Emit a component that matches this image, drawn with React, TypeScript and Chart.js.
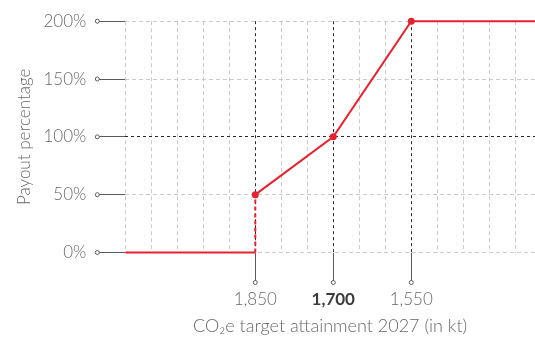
import React, { useEffect, useRef } from 'react';
import { Chart, registerables } from 'chart.js';

Chart.register(...registerables);

// ---- data ----
const targetKt = [2100, 1850, 1850, 1700, 1550, 1312];
const payoutPct = [0, 0, 50, 100, 200, 200];
const markedKt = [1850, 1700, 1550];
const markedLabels = ['1,850', '1,700', '1,550'];
const boldKt = 1700;
const xGridKt = [2100, 2050, 2000, 1950, 1900, 1850, 1800, 1750, 1700, 1650, 1600, 1550, 1500, 1450, 1400, 1350];
const yTicks = [0, 50, 100, 150, 200];
const xMin = 1312;
const xMax = 2100;

const RED = '#e62130';
const LIGHT = '#cbcbcb';
const DARK = '#2a2a2a';
const TICK = '#5a5a5a';
const TEXT = '#686868';
const FONT = 'Lato, "Open Sans", sans-serif';
const FS = 17;

const tickDots = {
  id: 'tickDots',
  afterDraw(chart: any) {
    const { ctx, chartArea } = chart;
    const x = chart.scales.x;
    const y = chart.scales.y;
    const dot = (px: number, py: number) => {
      ctx.beginPath();
      ctx.arc(px, py, 2, 0, Math.PI * 2);
      ctx.fillStyle = '#ffffff';
      ctx.fill();
      ctx.lineWidth = 1;
      ctx.strokeStyle = TICK;
      ctx.stroke();
    };
    ctx.save();
    const yLen = y.options.grid.tickLength;
    yTicks.forEach((v) => dot(chartArea.left - yLen, y.getPixelForValue(v)));
    const xLen = x.options.grid.tickLength;
    markedKt.forEach((v) => dot(x.getPixelForValue(v), chartArea.bottom + xLen));
    ctx.restore();
  },
};

export default function App() {
  const ref = useRef<HTMLCanvasElement>(null);
  useEffect(() => {
    if (!ref.current) return;
    const isMarked = (v: any) => markedKt.includes(v);
    const chart = new Chart(ref.current, {
      type: 'line',
      data: {
        datasets: [
          {
            data: targetKt.map((x, i) => ({ x, y: payoutPct[i] })),
            borderColor: RED,
            backgroundColor: RED,
            borderWidth: 2,
            tension: 0,
            clip: false as any,
            pointRadius: (c: any) => (c.raw && c.raw.y > 0 && isMarked(c.raw.x) ? 3.5 : 0),
            pointHoverRadius: 0,
            pointBackgroundColor: RED,
            pointBorderWidth: 0,
            segment: {
              borderDash: (c: any) => (c.p0.parsed.x === c.p1.parsed.x ? [4, 3] : undefined),
            },
          } as any,
        ],
      },
      options: {
        animation: false,
        responsive: true,
        maintainAspectRatio: false,
        layout: { padding: { top: 16, right: 0, left: 0, bottom: 0 } },
        plugins: { legend: { display: false }, tooltip: { enabled: false } },
        events: [],
        scales: {
          x: {
            type: 'linear',
            reverse: true,
            min: xMin,
            max: xMax,
            afterBuildTicks: (scale: any) => {
              scale.ticks = xGridKt.map((v) => ({ value: v }));
            },
            afterFit: (scale: any) => {
              scale.height = 84.5;
            },
            grid: {
              color: (c: any) => (isMarked(c.tick?.value) ? DARK : LIGHT),
              lineWidth: 1,
              tickLength: 30,
              tickWidth: 1,
              tickColor: (c: any) => (isMarked(c.tick?.value) ? TICK : 'rgba(0,0,0,0)'),
              tickBorderDash: [],
            } as any,
            border: {
              display: false,
              dash: (c: any) => (isMarked(c.tick?.value) ? [3, 3] : [4, 3]),
            } as any,
            ticks: {
              autoSkip: false,
              maxRotation: 0,
              padding: 7,
              callback: (v: any) => {
                const i = markedKt.indexOf(Number(v));
                return i >= 0 ? markedLabels[i] : '';
              },
              color: (c: any) => (c.tick?.value === boldKt ? '#3c3c3c' : TEXT),
              font: (c: any) => ({
                family: FONT,
                size: FS,
                weight: c.tick?.value === boldKt ? 'bold' : '300',
              }),
            } as any,
            title: {
              display: true,
              text: 'CO\u2082e target attainment 2027 (in kt)',
              color: TEXT,
              font: { family: FONT, size: 18, weight: '300' as any },
              padding: { top: 0, bottom: 0 },
            },
          },
          y: {
            type: 'linear',
            min: 0,
            max: 200,
            afterBuildTicks: (scale: any) => {
              scale.ticks = yTicks.map((v) => ({ value: v }));
            },
            afterFit: (scale: any) => {
              scale.width = 125.3;
            },
            grid: {
              color: (c: any) => (c.tick?.value === 100 ? DARK : LIGHT),
              lineWidth: 1,
              tickLength: 28,
              tickWidth: 1,
              tickColor: TICK,
              tickBorderDash: [],
            } as any,
            border: {
              display: false,
              dash: (c: any) => (c.tick?.value === 100 ? [3, 3] : [4, 3]),
            } as any,
            ticks: {
              padding: 11,
              color: TEXT,
              font: { family: FONT, size: FS, weight: '300' as any },
              callback: (v: any) => `${v}%`,
            },
            title: {
              display: true,
              text: 'Payout percentage',
              color: TEXT,
              font: { family: FONT, size: FS, weight: '300' as any },
              padding: { top: 14, bottom: 0 },
            },
          },
        },
      },
      plugins: [tickDots],
    });
    return () => chart.destroy();
  }, []);

  return (
    <div style={{ position: 'fixed', left: 0, top: 0, width: 535, height: 337, background: '#fff' }}>
      <canvas ref={ref} />
    </div>
  );
}
